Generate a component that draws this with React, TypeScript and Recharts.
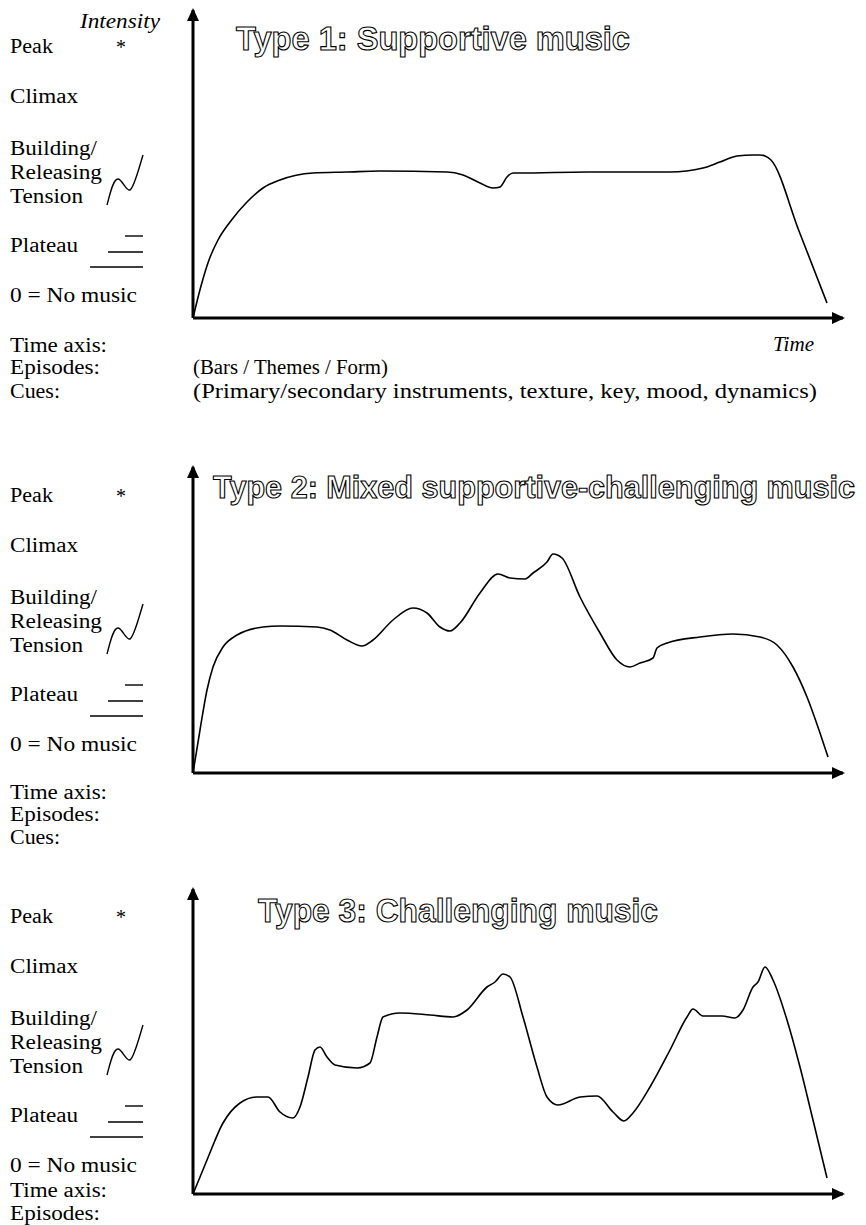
import React from "react";
import { LineChart, Line, XAxis, YAxis } from "recharts";

// Time runs along the x-axis, intensity is the height above the time axis.
const type1Time = [0, 8, 16, 25, 37, 54, 70, 87, 120, 154, 187, 254, 270, 287, 300, 307, 314, 320, 327, 394, 477, 510, 527, 544, 560, 567, 572, 578, 606, 634];
const type1Intensity = [0, 32, 58, 78, 96, 116, 130, 138, 145, 146, 147, 146, 143, 135, 130, 131, 141, 145, 145, 146, 146, 150, 156, 162, 163, 163, 162, 158, 87, 15];

const type2Time = [0, 7, 14, 20, 30, 44, 70, 87, 124, 137, 154, 169, 180, 200, 220, 234, 247, 257, 267, 287, 305, 317, 332, 340, 354, 360, 369, 387, 407, 424, 437, 447, 460, 464, 474, 507, 540, 567, 584, 600, 614, 627, 635];
const type2Intensity = [0, 43, 83, 106, 126, 138, 146, 147, 146, 143, 133, 127, 133, 153, 165, 160, 146, 142, 150, 180, 199, 195, 194, 200, 211, 219, 215, 176, 140, 113, 106, 110, 115, 125, 130, 136, 139, 136, 128, 106, 76, 40, 16];

const type3Time = [0, 14, 30, 47, 64, 75, 87, 100, 107, 115, 122, 127, 134, 142, 164, 177, 184, 190, 207, 237, 260, 274, 294, 302, 310, 317, 330, 344, 354, 365, 387, 404, 420, 431, 440, 457, 477, 494, 500, 510, 529, 542, 550, 560, 565, 572, 580, 594, 607, 620, 634];
const type3Intensity = [0, 34, 71, 91, 97, 97, 82, 76, 87, 117, 144, 147, 137, 129, 126, 131, 157, 177, 181, 179, 177, 184, 207, 212, 220, 217, 177, 127, 97, 89, 97, 98, 82, 73, 81, 107, 144, 177, 185, 178, 178, 176, 184, 207, 212, 227, 214, 174, 127, 74, 16];

const titles = [
  "Type 1: Supportive music",
  "Type 2: Mixed supportive-challenging music",
  "Type 3: Challenging music",
];
const levelLabels = ["Peak", "Climax", "Building/", "Releasing", "Tension", "Plateau", "0 = No music"];
const footerLabels = ["Time axis:", "Episodes:", "Cues:"];
const episodesNote = "(Bars / Themes / Form)";
const cuesNote = "(Primary/secondary instruments, texture, key, mood, dynamics)";

const SERIF = "'Liberation Serif', 'Times New Roman', serif";
const NARROW = "'Liberation Sans Narrow', 'Arial Narrow', 'Liberation Sans', Arial, sans-serif";
const FS = 20;

const toRows = (time: number[], intensity: number[]) =>
  time.map((t, i) => ({ t, v: intensity[i] }));

const labelWidths: Record<string, number> = {
  Peak: 43,
  Climax: 68,
  "Building/": 87,
  Releasing: 92,
  Tension: 73,
  Plateau: 68,
  "0 = No music": 127,
  "Time axis:": 97,
  "Episodes:": 90,
  "Cues:": 50,
};

function Panel({ rows, top, height, mTop, mBottom, yMax }: any) {
  return (
    <div style={{ position: "absolute", left: 0, top, width: 866, height }}>
      <LineChart
        width={866}
        height={height}
        data={rows}
        margin={{ top: mTop, right: 23, bottom: mBottom, left: 192 }}
      >
        <XAxis
          type="number"
          dataKey="t"
          domain={[0, 650]}
          allowDataOverflow
          height={1}
          tick={false}
          tickLine={false}
          axisLine={{ stroke: "#000", strokeWidth: 3, markerEnd: "url(#arrowHead)" }}
        />
        <YAxis
          type="number"
          domain={[0, yMax]}
          allowDataOverflow
          width={1}
          tick={false}
          tickLine={false}
          axisLine={{ stroke: "#000", strokeWidth: 3, markerStart: "url(#arrowHead)" }}
        />
        <Line
          type="monotone"
          dataKey="v"
          stroke="#000"
          strokeWidth={1.6}
          dot={false}
          isAnimationActive={false}
        />
      </LineChart>
    </div>
  );
}

function Legend({ dy, footer }: { dy: number; footer: number[] }) {
  const base = [53, 103, 155, 179, 203, 252, 302];
  return (
    <g>
      {levelLabels.map((s, i) => (
        <text key={s} x={10} y={base[i] + dy} fontSize={FS} textLength={labelWidths[s]} lengthAdjust="spacingAndGlyphs">
          {s}
        </text>
      ))}
      <text x={116} y={54 + dy} fontSize={FS}>*</text>
      <path
        d={`M107,${205 + dy} C110,${194 + dy} 113,${179 + dy} 118,${179 + dy} C122,${179 + dy} 126,${191 + dy} 130,${190 + dy} C134,${188 + dy} 139,${168 + dy} 143,${155 + dy}`}
        fill="none"
        stroke="#000"
        strokeWidth={1.4}
      />
      <line x1={125} x2={143} y1={236 + dy} y2={236 + dy} stroke="#000" strokeWidth={1.4} />
      <line x1={108} x2={143} y1={252 + dy} y2={252 + dy} stroke="#000" strokeWidth={1.4} />
      <line x1={90} x2={143} y1={267 + dy} y2={267 + dy} stroke="#000" strokeWidth={1.4} />
      {footer.map((y, i) => (
        <text key={footerLabels[i]} x={10} y={y} fontSize={FS} textLength={labelWidths[footerLabels[i]]} lengthAdjust="spacingAndGlyphs">
          {footerLabels[i]}
        </text>
      ))}
    </g>
  );
}

function Title({ text, x, y, w, size }: { text: string; x: number; y: number; w: number; size: number }) {
  return (
    <text
      x={x}
      y={y}
      fontFamily={NARROW}
      fontWeight="bold"
      fontSize={size}
      fill="#fff"
      stroke="#000"
      strokeWidth={1.1}
      textLength={w}
      lengthAdjust="spacingAndGlyphs"
    >
      {text}
    </text>
  );
}

export default function App() {
  return (
    <div style={{ position: "absolute", left: 0, top: 0, width: 866, height: 1225, background: "#fff" }}>
      <svg width={1} height={1} style={{ position: "absolute", left: 0, top: 0 }}>
        <defs>
          <marker
            id="arrowHead"
            markerUnits="userSpaceOnUse"
            markerWidth={14}
            markerHeight={14}
            viewBox="0 0 14 14"
            refX={11}
            refY={7}
            orient="auto-start-reverse"
          >
            <path d="M0,1 L13,7 L0,13 z" fill="#000" />
          </marker>
        </defs>
      </svg>

      <Panel rows={toRows(type1Time, type1Intensity)} top={0} height={330} mTop={10} mBottom={11} yMax={308} />
      <Panel rows={toRows(type2Time, type2Intensity)} top={450} height={330} mTop={17} mBottom={6} yMax={306} />
      <Panel rows={toRows(type3Time, type3Intensity)} top={870} height={340} mTop={19} mBottom={15} yMax={305} />

      <svg
        width={866}
        height={1225}
        style={{ position: "absolute", left: 0, top: 0, pointerEvents: "none" }}
        fontFamily={SERIF}
      >
        <text x={80} y={28} fontSize={FS} fontStyle="italic" textLength={80} lengthAdjust="spacingAndGlyphs">
          Intensity
        </text>
        <Legend dy={0} footer={[352, 374, 398]} />
        <Legend dy={449} footer={[799, 821, 844]} />
        <Legend dy={870} footer={[1197, 1220]} />

        <text x={773} y={351} fontSize={FS} fontStyle="italic" textLength={41} lengthAdjust="spacingAndGlyphs">
          Time
        </text>
        <text x={193} y={374} fontSize={FS} textLength={195} lengthAdjust="spacingAndGlyphs">
          {episodesNote}
        </text>
        <text x={193} y={398} fontSize={FS} textLength={624} lengthAdjust="spacingAndGlyphs">
          {cuesNote}
        </text>

        <Title text={titles[0]} x={236} y={50} w={394} size={33} />
        <Title text={titles[1]} x={213} y={498} w={642} size={30.5} />
        <Title text={titles[2]} x={258} y={922} w={400} size={33} />
      </svg>
    </div>
  );
}
